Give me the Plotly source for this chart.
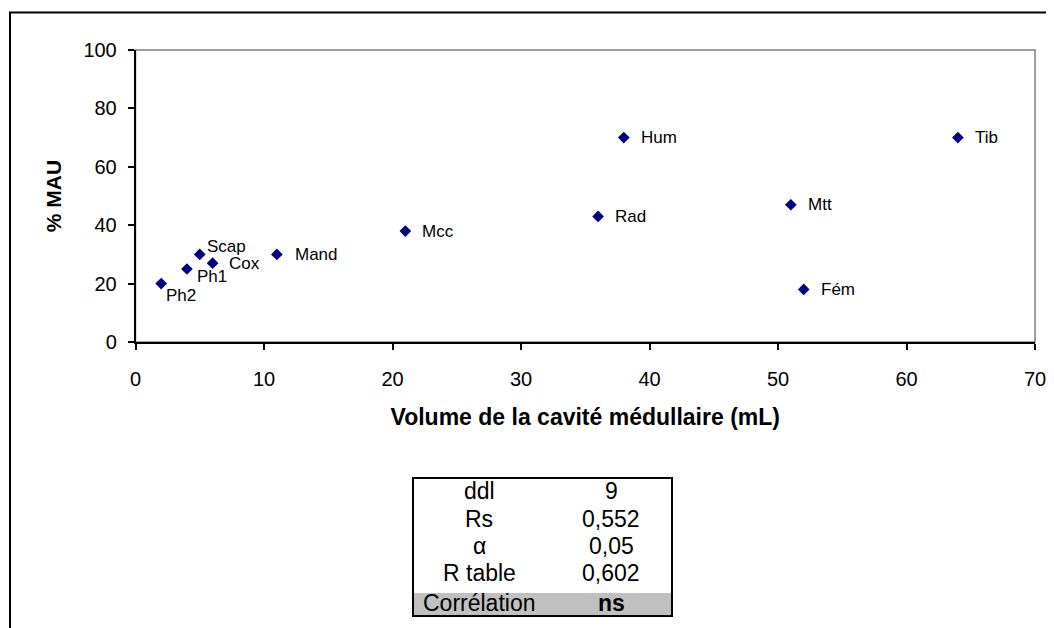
import plotly.graph_objects as go

# ---------------- data ----------------
bones = ["Ph2", "Ph1", "Scap", "Cox", "Mand", "Mcc", "Rad", "Hum", "Mtt", "Fém", "Tib"]
volume_ml = [2, 4, 5, 6, 11, 21, 36, 38, 51, 52, 64]
mau_pct = [20, 25, 30, 27, 30, 38, 43, 70, 47, 18, 70]

x_ticks = [0, 10, 20, 30, 40, 50, 60, 70]
y_ticks = [0, 20, 40, 60, 80, 100]

table_labels = ["ddl", "Rs", "α", "R table", "Corrélation"]
table_values = ["9", "0,552", "0,05", "0,602", "ns"]

# ---------------- layout helpers (page pixels -> paper) ----------------
OFF = 8                      # page body margin
W, H = 1054 - OFF, 628 - OFF
FONT = "Liberation Sans, Arial, sans-serif"


def px(x):
    return (x - OFF) / W


def py(y):
    return 1 - (y - OFF) / H


PLOT_L, PLOT_R, PLOT_T, PLOT_B = 135.5, 1035, 50, 342

# label offsets (pixels): dx right, dy down
label_offsets = {
    "Ph2": (3, 12), "Ph1": (8, 7), "Scap": (5, -8), "Cox": (14, 0),
    "Mand": (16, 0),
}
default_offset = (15, 0)

fig = go.Figure()
fig.add_trace(go.Scatter(
    x=volume_ml, y=mau_pct, mode="markers",
    marker=dict(symbol="diamond", size=9, color="#000080",
                line=dict(width=0)),
    hoverinfo="x+y+text", text=bones, showlegend=False,
))

annotations = []
for name, xv, yv in zip(bones, volume_ml, mau_pct):
    dx, dy = label_offsets.get(name, default_offset)
    annotations.append(dict(
        x=xv, y=yv, xref="x", yref="y", text=name, showarrow=False,
        xanchor="left", yanchor="middle", xshift=dx, yshift=-dy,
        font=dict(family=FONT, size=17, color="black"),
    ))

# table
T_L, T_R, T_TOP = 413, 672, 478
ROW_H = 27
LAB_CX, VAL_CX = 479, 611
row_centers = [T_TOP + ROW_H * (i + 0.5) for i in range(4)] + [603]
T_BOT = 616
GRAY_TOP = 593

shapes = [
    # outer chart border
    dict(type="rect", xref="paper", yref="paper",
         x0=px(10), x1=px(1054 + 20), y0=py(12.5), y1=py(628 + 20),
         line=dict(color="black", width=2), fillcolor="rgba(0,0,0,0)", layer="below"),
    # plot area border (gray top/right)
    dict(type="rect", xref="paper", yref="paper",
         x0=px(PLOT_L), x1=px(PLOT_R), y0=py(PLOT_B), y1=py(PLOT_T),
         line=dict(color="#808080", width=1.5), fillcolor="rgba(0,0,0,0)", layer="below"),
    # table gray row
    dict(type="rect", xref="paper", yref="paper",
         x0=px(T_L), x1=px(T_R), y0=py(T_BOT), y1=py(GRAY_TOP),
         line=dict(width=0), fillcolor="#c0c0c0", layer="below"),
    # table border
    dict(type="rect", xref="paper", yref="paper",
         x0=px(T_L), x1=px(T_R), y0=py(T_BOT), y1=py(T_TOP),
         line=dict(color="black", width=2), fillcolor="rgba(0,0,0,0)", layer="above"),
]

for i, (lab, val) in enumerate(zip(table_labels, table_values)):
    yc = row_centers[i]
    annotations.append(dict(
        x=px(LAB_CX), y=py(yc), xref="paper", yref="paper", text=lab,
        showarrow=False, xanchor="center", yanchor="middle",
        font=dict(family=FONT, size=23, color="black")))
    bold = i == len(table_labels) - 1
    annotations.append(dict(
        x=px(VAL_CX), y=py(yc), xref="paper", yref="paper",
        text=f"<b>{val}</b>" if bold else val,
        showarrow=False, xanchor="center", yanchor="middle",
        font=dict(family=FONT, size=23, color="black")))

fig.update_layout(
    width=W, height=H,
    margin=dict(l=0, r=0, t=0, b=0, autoexpand=False),
    paper_bgcolor="white", plot_bgcolor="white",
    font=dict(family=FONT, color="black"),
    shapes=shapes, annotations=annotations,
    xaxis=dict(
        domain=[px(PLOT_L), px(PLOT_R)], range=[0, 70],
        tickvals=x_ticks, ticktext=[str(v) for v in x_ticks],
        showline=True, linecolor="black", linewidth=1.5,
        ticks="outside", ticklen=6, tickwidth=1.5, tickcolor="black",
        showgrid=False, zeroline=False,
        tickfont=dict(family=FONT, size=20, color="black"),
        ticklabelstandoff=12,
        title=dict(text="<b>Volume de la cavité médullaire (mL)</b>",
                   font=dict(family=FONT, size=23, color="black"), standoff=20),
        automargin=False,
    ),
    yaxis=dict(
        domain=[py(PLOT_B), py(PLOT_T)], range=[0, 100],
        tickvals=y_ticks, ticktext=[str(v) for v in y_ticks],
        showline=True, linecolor="black", linewidth=1.5,
        ticks="outside", ticklen=6, tickwidth=1.5, tickcolor="black",
        showgrid=False, zeroline=False,
        tickfont=dict(family=FONT, size=20, color="black"),
        ticklabelstandoff=7,
        title=dict(text="<b>% MAU</b>",
                   font=dict(family=FONT, size=21, color="black"), standoff=16),
        automargin=False,
    ),
)

fig.write_html("out.html")
